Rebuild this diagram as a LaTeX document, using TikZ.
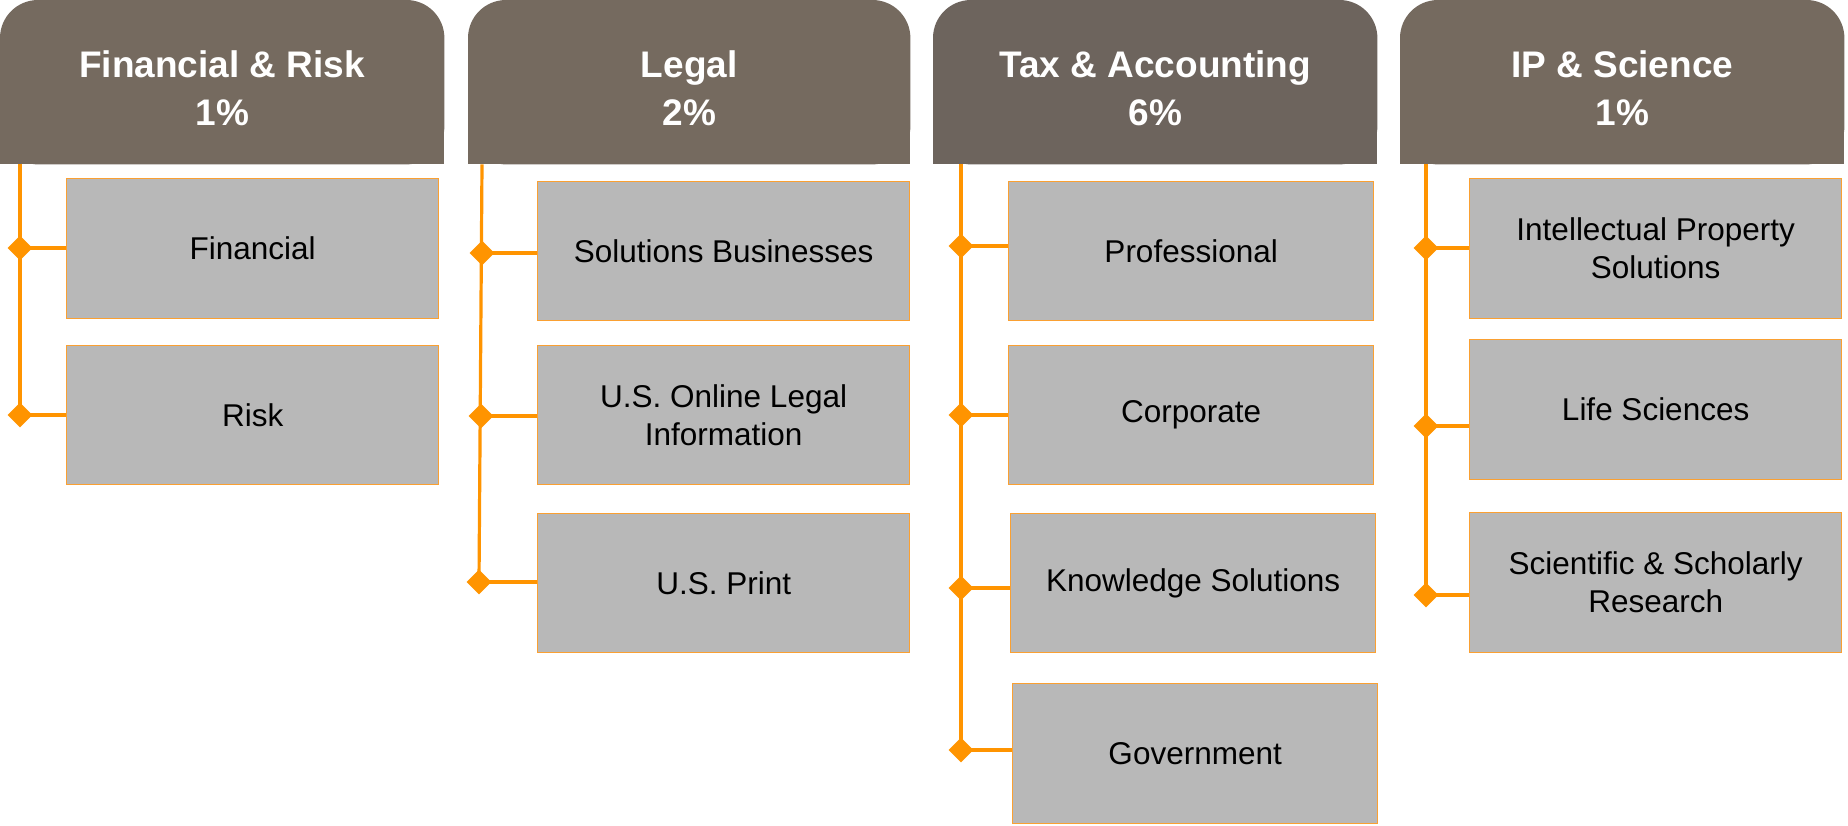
\documentclass[tikz,border=0pt]{standalone}
\usepackage{fontspec}
\setmainfont{Liberation Sans}
\usetikzlibrary{shapes.geometric,backgrounds}
\definecolor{hdrA}{RGB}{117,106,95}
\definecolor{hdrB}{RGB}{109,100,93}
\definecolor{boxfill}{RGB}{184,184,184}
\definecolor{boxline}{RGB}{250,160,50}
\definecolor{conn}{RGB}{255,148,0}
\begin{document}
\begin{tikzpicture}[x=1pt,y=-1pt,
  hdrbox/.style={anchor=north west, inner sep=0pt, minimum height=164pt},
  hdrtext/.style={inner sep=0pt, text=white,
    font=\fontsize{37}{48}\selectfont\bfseries, align=center},
  sub/.style={anchor=north west, fill=boxfill, draw=boxline, line width=1.3pt, inner sep=2pt,
    font=\fontsize{31.5}{38}\selectfont, align=center, text=black},
  knot/.style={diamond, fill=conn, inner sep=0pt, minimum width=25pt, minimum height=25pt},
  link/.style={draw=conn, line width=3.2pt}]
\useasboundingbox (0,0) rectangle (1848,825);

% headers
\node[hdrbox, minimum width=444pt] (h1) at (0,0) {};
\node[hdrbox, minimum width=442pt] (h2) at (468,0) {};
\node[hdrbox, minimum width=444pt] (h3) at (933,0) {};
\node[hdrbox, minimum width=444pt] (h4) at (1400,0) {};
\begin{scope}[on background layer]
  \foreach \h/\c in {h1/hdrA,h2/hdrA,h3/hdrB,h4/hdrA}{
    \fill[\c, rounded corners=38pt] (\h.north west) rectangle (\h.south east);
    \fill[\c] (\h.west) rectangle (\h.south east);
  }
\end{scope}
\node[hdrtext] (t1) at ([yshift=-6pt]h1.center) {Financial \& Risk\\1\%};
\node[hdrtext] (t2) at ([yshift=-6pt]h2.center) {Legal\\2\%};
\node[hdrtext] (t3) at ([yshift=-6pt]h3.center) {Tax \& Accounting\\6\%};
\node[hdrtext] (t4) at ([yshift=-6pt]h4.center) {IP \& Science\\1\%};

% sub boxes
\node[sub, minimum width=372pt, minimum height=140pt] (b11) at (66,178) {Financial};
\node[sub, minimum width=372pt, minimum height=139pt] (b12) at (66,345) {Risk};

\node[sub, minimum width=372pt, minimum height=139pt] (b21) at (537,181) {Solutions Businesses};
\node[sub, minimum width=372pt, minimum height=139pt] (b22) at (537,345) {U.S. Online Legal\\Information};
\node[sub, minimum width=372pt, minimum height=139pt] (b23) at (537,513) {U.S. Print};

\node[sub, minimum width=365pt, minimum height=139pt] (b31) at (1008,181) {Professional};
\node[sub, minimum width=365pt, minimum height=139pt] (b32) at (1008,345) {Corporate};
\node[sub, minimum width=365pt, minimum height=139pt] (b33) at (1010,513) {Knowledge Solutions};
\node[sub, minimum width=365pt, minimum height=140pt] (b34) at (1012,683) {Government};

\node[sub, minimum width=372pt, minimum height=140pt] (b41) at (1469,178) {Intellectual Property\\Solutions};
\node[sub, minimum width=372pt, minimum height=140pt] (b42) at (1469,339) {Life Sciences};
\node[sub, minimum width=372pt, minimum height=140pt] (b43) at (1469,512) {Scientific \& Scholarly\\Research};

% knots
\node[knot] (d11) at (20,248) {};
\node[knot] (d12) at (20,415) {};
\node[knot] (d21) at (482,253) {};
\node[knot] (d22) at (481,416) {};
\node[knot] (d23) at (479,582) {};
\node[knot] (d31) at (961,246) {};
\node[knot] (d32) at (961,415) {};
\node[knot] (d33) at (961,588) {};
\node[knot] (d34) at (961,750) {};
\node[knot] (d41) at (1426,248) {};
\node[knot] (d42) at (1426,426) {};
\node[knot] (d43) at (1426,595) {};

% spines
\draw[link] (h1.south -| d11.center) -- (d12.center);
\draw[link] (h2.south -| d21.center) -- (d23.center);
\draw[link] (h3.south -| d31.center) -- (d34.center);
\draw[link] (h4.south -| d41.center) -- (d43.center);

% branches
\foreach \d/\b in {d11/b11,d12/b12,d21/b21,d22/b22,d23/b23,d31/b31,d32/b32,d33/b33,d34/b34,d41/b41,d42/b42,d43/b43}{
  \draw[link] (\d.center) -- (\d.center -| \b.west);
}
\end{tikzpicture}
\end{document}
